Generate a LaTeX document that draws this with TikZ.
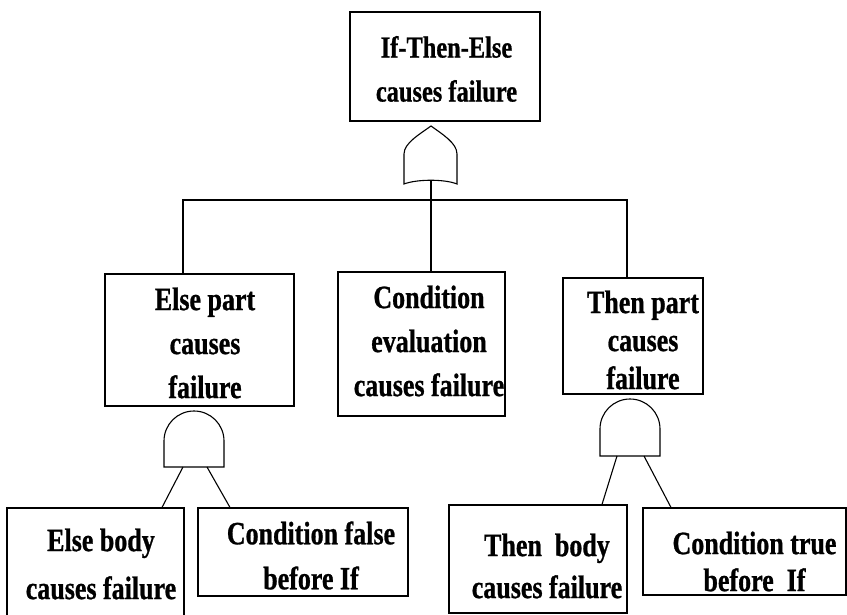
\documentclass[tikz,border=0pt]{standalone}
\usepackage{fontspec}
\setmainfont{Liberation Serif}
% narrowed heavy serif for the event texts (tall letter shapes)
\newfontfamily\evfont{Liberation Serif}[FakeStretch=0.8, BoldFeatures={FakeBold=0.8}]
\begin{document}
\begin{tikzpicture}[x=1pt,y=-1pt,
  line width=1.1pt,
  box/.style={draw, rectangle, inner sep=0pt},
  txt/.style={align=center, inner sep=0pt, font=\evfont\bfseries\fontsize{32.5}{44}\selectfont},
  gate/.style={draw, line width=1.1pt, fill=white}]
\useasboundingbox (0,0) rectangle (847,615);
\clip (0,0) rectangle (847,615);

% event boxes
\node[box, minimum width=190pt, minimum height=109pt] (top) at (445,66.5) {};
\node[box, minimum width=189pt, minimum height=132pt] (ep) at (199.5,340) {};
\node[box, minimum width=167pt, minimum height=144pt] (ce) at (421.5,344) {};
\node[box, minimum width=140pt, minimum height=116pt] (tp) at (633,336) {};
\node[box, minimum width=177pt, minimum height=117pt] (eb) at (95.5,566.5) {};
\node[box, minimum width=210pt, minimum height=88pt] (cf) at (303,552) {};
\node[box, minimum width=178pt, minimum height=108pt] (tb) at (538,559) {};
\node[box, minimum width=203pt, minimum height=87pt] (ct) at (744.5,551.5) {};

% event texts
\node[txt, font=\evfont\bfseries\fontsize{30.5}{44}\selectfont] (topT) at (446.5,69) {If-Then-Else\\causes failure};
\node[txt] (epT) at (205,343) {Else part\\causes\\failure};
\node[txt] (ceT) at (429,341) {Condition\\evaluation\\causes failure};
\node[txt, font=\evfont\bfseries\fontsize{32.5}{38}\selectfont] (tpT) at (643,340) {Then part\\causes\\failure};
\node[txt, font=\evfont\bfseries\fontsize{32.5}{48}\selectfont] (ebT) at (101,564) {Else body\\causes failure};
\node[txt, font=\evfont\bfseries\fontsize{32.5}{45}\selectfont] (cfT) at (311,555.5) {Condition false\\before If};
\node[txt, font=\evfont\bfseries\fontsize{32.5}{42}\selectfont] (tbT) at (547,566) {Then\ \ body\\causes failure};
\node[txt, font=\evfont\bfseries\fontsize{32.5}{37}\selectfont] (ctT) at (754.5,561.5) {Condition true\\before\ \ If};

% OR gate under the top event
\coordinate (orOut) at (431,181);
\draw[gate] (404,184) -- (404,154)
  .. controls (404,143) and (420,134) .. (431,126)
  .. controls (442,134) and (457,143) .. (457,154)
  -- (457,184)
  .. controls (445,179) and (417,179) .. (404,184) -- cycle;

% AND gate under the else part
\draw[gate] (164,467) -- (164,441)
  .. controls (164,424.4) and (177.4,411) .. (194,411)
  .. controls (210.6,411) and (224,424.4) .. (224,441)
  -- (224,467) -- cycle;
\coordinate (andE1) at (183,467);
\coordinate (andE2) at (207,467);

% AND gate under the then part
\draw[gate] (600,456) -- (600,429)
  .. controls (600,412.4) and (613.4,399) .. (630,399)
  .. controls (646.6,399) and (660,412.4) .. (660,429)
  -- (660,456) -- cycle;
\coordinate (andT1) at (617,456);
\coordinate (andT2) at (644,456);

% connectors
\coordinate (barL) at (183,200);
\coordinate (barR) at (627,200);
\draw (orOut) -- (orOut |- ce.north);
\draw (barL |- ep.north) -- (barL) -- (barR) -- (barR |- tp.north);
\draw (andE1) -- (162,0 |- eb.north);
\draw (andE2) -- (230,0 |- cf.north);
\draw (andT1) -- (602,0 |- tb.north);
\draw (andT2) -- (671,0 |- ct.north);
\end{tikzpicture}
\end{document}
